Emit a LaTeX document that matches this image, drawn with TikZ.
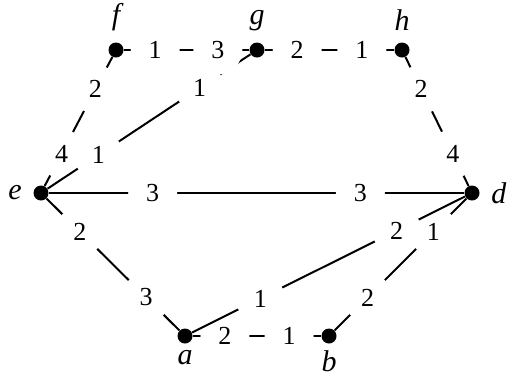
\documentclass[tikz,border=0pt]{standalone}
\usepackage{fontspec}
\setmainfont{Liberation Serif}
\usetikzlibrary{positioning}

\begin{document}
\begin{tikzpicture}[x=0.5pt, y=-0.5pt,
    vertex/.style={circle, fill=black, inner sep=0pt, minimum size=7.5pt},
    wt/.style={circle, fill=white, inner sep=0pt, minimum size=24.5pt,
        font=\fontsize{13}{15}\selectfont},
    edge/.style={line width=1pt},
    every label/.style={inner sep=0pt, label distance=5.5pt,
        font=\fontsize{15}{18}\selectfont\itshape}]
    \useasboundingbox (0,0) rectangle (507,376);

    % vertices
    \node[vertex, label=above:f] (f) at (116,50) {};
    \node[vertex, label=above:g] (g) at (257,50) {};
    \node[vertex, label=above:h] (h) at (402,50) {};
    \node[vertex, label=left:e]  (e) at (41,193) {};
    \node[vertex, label=right:d] (d) at (472,193) {};
    \node[vertex, label={[label distance=3pt]below:a}] (a) at (185,336) {};
    \node[vertex, label={[label distance=3pt]below:b}] (b) at (329,336) {};

    % edges (order matters: later weight discs cover earlier lines)
    \draw[edge] (f) -- node[wt, pos=0.25] {2} node[wt, pos=0.75] {4} (e);
    \draw[edge] (h) -- node[wt, pos=0.25] {2} node[wt, pos=0.75] {4} (d);
    \draw[edge] (e) -- node[wt, pos=0.25] {1} node[wt, pos=0.75] {1} (g);
    \draw[edge] (f) -- node[wt, pos=0.25] {1} node[wt, pos=0.75] {3} (g);
    \draw[edge] (g) -- node[wt, pos=0.25] {2} node[wt, pos=0.75] {1} (h);
    \draw[edge] (e) -- node[wt, pos=0.25] {3} node[wt, pos=0.75] {3} (d);
    \draw[edge] (e) -- node[wt, pos=0.25] {2} node[wt, pos=0.75] {3} (a);
    \draw[edge] (a) -- node[wt, pos=0.25] {2} node[wt, pos=0.75] {1} (b);
    \draw[edge] (b) -- node[wt, pos=0.25] {2} node[wt, pos=0.75] {1} (d);
    \draw[edge] (a) -- node[wt, pos=0.25] {1} node[wt, pos=0.75] {2} (d);
\end{tikzpicture}
\end{document}
